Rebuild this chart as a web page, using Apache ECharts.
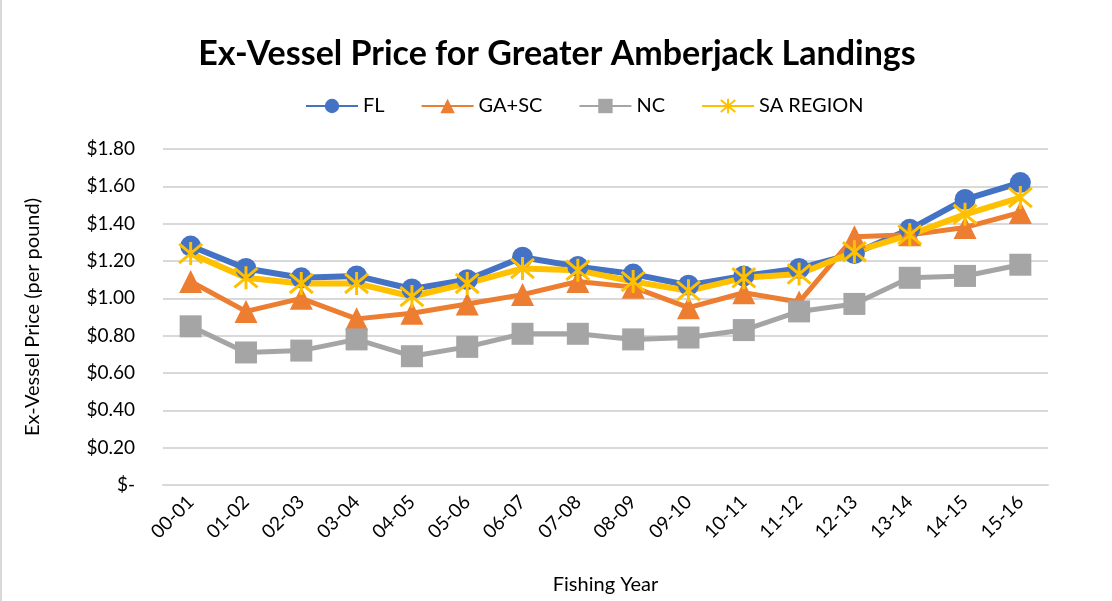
<!DOCTYPE html>
<html>
<head>
<meta charset="utf-8">
<script src="https://cdn.jsdelivr.net/npm/echarts@6/dist/echarts.min.js"></script>
<style>
  html, body { margin: 0; padding: 0; background: #fff; }
  #chart { width: 1112px; height: 601px; box-sizing: border-box; border-left: 2px solid #d9d9d9; }
</style>
</head>
<body>
<div id="chart"></div>
<script>
const years = ['00-01', '01-02', '02-03', '03-04', '04-05', '05-06', '06-07', '07-08',
  '08-09', '09-10', '10-11', '11-12', '12-13', '13-14', '14-15', '15-16'];
const fl = [1.28, 1.16, 1.11, 1.12, 1.05, 1.10, 1.22, 1.17, 1.13, 1.07, 1.12, 1.16, 1.24, 1.37, 1.53, 1.62];
const gaSc = [1.09, 0.93, 1.00, 0.89, 0.92, 0.97, 1.02, 1.09, 1.06, 0.95, 1.03, 0.98, 1.33, 1.34, 1.38, 1.46];
const nc = [0.85, 0.71, 0.72, 0.78, 0.69, 0.74, 0.81, 0.81, 0.78, 0.79, 0.83, 0.93, 0.97, 1.11, 1.12, 1.18];
const saRegion = [1.24, 1.11, 1.08, 1.08, 1.01, 1.08, 1.16, 1.15, 1.09, 1.04, 1.11, 1.13, 1.25, 1.34, 1.45, 1.54];

const font = 'Lato, "Open Sans", sans-serif';
const chart = echarts.init(document.getElementById('chart'));

// asterisk marker like Excel's "star"
const starPath = 'path://M0,0L10,10M10,0L0,10M5,-1L5,11';

function line(name, data, color, symbol, size, width, extra) {
  return Object.assign({
    name: name,
    type: 'line',
    data: data,
    symbol: symbol,
    symbolSize: size,
    lineStyle: { color: color, width: width },
    itemStyle: { color: color },
    emphasis: { disabled: true }
  }, extra || {});
}

chart.setOption({
  animation: false,
  title: {
    text: 'Ex-Vessel Price for Greater Amberjack Landings',
    left: 'center',
    top: 32,
    textStyle: { fontFamily: font, fontSize: 34, fontWeight: 'bold', color: '#000' }
  },
  legend: {
    top: 91,
    left: 298,
    itemWidth: 52,
    itemHeight: 18,
    itemGap: 36,
    textStyle: { fontFamily: font, fontSize: 20, color: '#000' },
    data: ['FL', 'GA+SC', 'NC', 'SA REGION']
  },
  grid: { left: 161, right: 64, top: 149, bottom: 116 },
  xAxis: {
    type: 'category',
    data: years,
    name: 'Fishing Year',
    nameLocation: 'middle',
    nameGap: 90,
    nameTextStyle: { fontFamily: font, fontSize: 20, color: '#000' },
    axisLine: { lineStyle: { color: '#d9d9d9', width: 2 } },
    axisTick: { show: false },
    axisLabel: { rotate: 45, fontFamily: font, fontSize: 19, color: '#000', margin: 14 }
  },
  yAxis: {
    type: 'value',
    min: 0,
    max: 1.8,
    interval: 0.2,
    name: 'Ex-Vessel Price (per pound)',
    nameLocation: 'middle',
    nameGap: 120,
    nameTextStyle: { fontFamily: font, fontSize: 20, color: '#000' },
    axisLine: { show: false },
    axisTick: { show: false },
    splitLine: { lineStyle: { color: '#d9d9d9', width: 2 } },
    axisLabel: {
      fontFamily: font, fontSize: 19, color: '#000', margin: 28,
      formatter: v => v === 0 ? '$-' : '$' + v.toFixed(2)
    }
  },
  series: [
    line('FL', fl, '#4472C4', 'circle', 21, 6),
    line('GA+SC', gaSc, '#ED7D31', 'triangle', 23, 5),
    line('NC', nc, '#A5A5A5', 'rect', 22, 5),
    line('SA REGION', saRegion, '#FFC000', starPath, 23, 6, {
      itemStyle: { color: 'none', borderColor: '#FFC000', borderWidth: 3 }
    })
  ]
});
</script>
</body>
</html>
